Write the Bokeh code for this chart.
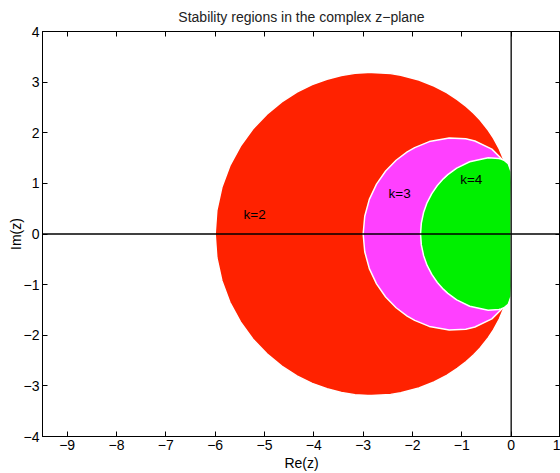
from bokeh.plotting import figure
from bokeh.models import Range1d, LinearAxis, FixedTicker, Span, Label
from bokeh.embed import file_html
from bokeh.resources import INLINE

# Stability region boundaries, upper half then lower half
K2_X = [0.0, -0.003, -0.047, -0.114, -0.156, -0.240, -0.359, -0.463, -0.632, -0.759, -0.911, -1.091,
        -1.306, -1.563, -1.870, -2.236, -2.443, -2.825, -2.908, -3.167, -3.442, -3.733, -4.034,
        -4.343, -4.650, -4.951, -5.234, -5.487, -5.702, -5.864, -5.966, -6.000,
        -5.966, -5.864, -5.702, -5.487, -5.234, -4.951, -4.650, -4.343, -4.034, -3.733, -3.442,
        -3.167, -2.908, -2.825, -2.443, -2.236, -1.870, -1.563, -1.306, -1.091, -0.911, -0.759,
        -0.632, -0.463, -0.359, -0.240, -0.156, -0.114, -0.047, -0.003]
K2_Y = [0.0, 0.524, 1.064, 1.356, 1.481, 1.680, 1.895, 2.050, 2.255, 2.385, 2.519, 2.656,
        2.792, 2.923, 3.042, 3.136, 3.168, 3.191, 3.191, 3.173, 3.130, 3.058, 2.950,
        2.803, 2.610, 2.368, 2.077, 1.735, 1.349, 0.923, 0.469, 0.0,
        -0.469, -0.923, -1.349, -1.735, -2.077, -2.368, -2.610, -2.803, -2.950, -3.058, -3.130,
        -3.173, -3.191, -3.191, -3.168, -3.136, -3.042, -2.923, -2.792, -2.656, -2.519, -2.385,
        -2.255, -2.050, -1.895, -1.680, -1.481, -1.356, -1.064, -0.524]

K3_X = [0.0, 0.000, -0.022, -0.073, -0.185, -0.392, -0.735, -0.920, -1.256, -1.659, -1.955, -2.107,
        -2.332, -2.544, -2.729, -2.875, -2.968, -3.000,
        -2.968, -2.875, -2.729, -2.544, -2.332, -2.107, -1.955, -1.659, -1.256, -0.920, -0.735,
        -0.392, -0.185, -0.073, -0.022, 0.000]
K3_Y = [0.0, 0.523, 1.026, 1.259, 1.477, 1.677, 1.838, 1.880, 1.896, 1.825, 1.707, 1.622,
        1.457, 1.244, 0.985, 0.683, 0.351, 0.0,
        -0.351, -0.683, -0.985, -1.244, -1.457, -1.622, -1.707, -1.825, -1.896, -1.880, -1.838,
        -1.677, -1.477, -1.259, -1.026, -0.523]

K4_X = [0.0, 0.000, 0.006, -0.003, -0.059, -0.134, -0.205, -0.247, -0.466, -0.840, -1.104, -1.284,
        -1.371, -1.497, -1.609, -1.704, -1.776, -1.821, -1.837,
        -1.821, -1.776, -1.704, -1.609, -1.497, -1.371, -1.284, -1.104, -0.840, -0.466, -0.247,
        -0.205, -0.134, -0.059, -0.003, 0.006, 0.000]
K4_Y = [0.0, 0.523, 1.026, 1.235, 1.388, 1.450, 1.480, 1.491, 1.506, 1.427, 1.300, 1.173,
        1.094, 0.958, 0.799, 0.620, 0.424, 0.215, 0.0,
        -0.215, -0.424, -0.620, -0.799, -0.958, -1.094, -1.173, -1.300, -1.427, -1.506, -1.491,
        -1.480, -1.450, -1.388, -1.235, -1.026, -0.523]

X_TICKS = [-9, -8, -7, -6, -5, -4, -3, -2, -1, 0, 1]
Y_TICKS = [-4, -3, -2, -1, 0, 1, 2, 3, 4]
REGION_LABELS = ["k=2", "k=3", "k=4"]

FONT = "Liberation Sans"


def lab(v):
    return ("\u2212" + str(-v)) if v < 0 else str(v)


p = figure(width=560, height=473, x_range=Range1d(-9.5, 1), y_range=Range1d(-4, 4),
           output_backend="svg", toolbar_location=None,
           title="Stability regions in the complex z\u2212plane",
           min_border_left=42, min_border_right=0, min_border_top=30, min_border_bottom=0)
p.title.align = "center"
p.title.text_font = FONT
p.title.text_font_size = "14px"
p.title.text_font_style = "normal"
p.title.text_color = "#222222"
p.title.standoff = 13
p.grid.visible = False
p.outline_line_color = "black"
p.background_fill_color = "white"
p.border_fill_color = "white"

p.patch(K2_X, K2_Y, fill_color="#ff2200", line_color="white", line_width=1.5)
p.patch(K3_X, K3_Y, fill_color="#ff40ff", line_color="white", line_width=1.5)
p.patch(K4_X, K4_Y, fill_color="#00f000", line_color="white", line_width=1.5)

p.add_layout(Span(location=0, dimension="width", line_color="black", line_width=1.3))
p.add_layout(Span(location=0, dimension="height", line_color="black", line_width=1.3))

for t, x, y in zip(REGION_LABELS, [-5.2, -2.26, -0.81], [0.38, 0.8, 1.08]):
    p.add_layout(Label(x=x, y=y, text=t, text_align="center", text_baseline="middle",
                       text_font=FONT, text_font_size="13.5px", text_color="black"))


def style(ax, ticks, show):
    ax.ticker = FixedTicker(ticks=ticks)
    ax.major_tick_in = 5
    ax.major_tick_out = 0
    ax.minor_tick_in = 0
    ax.minor_tick_out = 0
    ax.axis_line_color = "black"
    ax.major_tick_line_color = "black"
    ax.major_label_text_font = FONT
    ax.major_label_text_color = "black"
    ax.major_label_text_line_height = 1.0
    ax.axis_label_text_font = FONT
    ax.axis_label_text_font_style = "normal"
    ax.axis_label_text_font_size = "14px"
    ax.axis_label_text_color = "black"
    ax.axis_label_text_line_height = 1.0
    if show:
        ax.major_label_overrides = {v: lab(v) for v in ticks}
        ax.major_label_text_font_size = "14px"
        ax.major_label_standoff = 3
    else:
        ax.major_label_overrides = {v: "" for v in ticks}
        ax.major_label_text_font_size = "1px"
        ax.major_label_standoff = 0
        ax.axis_label_standoff = 0


style(p.xaxis[0], X_TICKS, True)
p.xaxis[0].axis_label = "Re(z)"
p.xaxis[0].axis_label_standoff = 2
style(p.yaxis[0], Y_TICKS, True)
p.yaxis[0].axis_label = "Im(z)"
p.yaxis[0].axis_label_standoff = -3

top = LinearAxis()
style(top, X_TICKS, False)
p.add_layout(top, "above")
right = LinearAxis()
style(right, Y_TICKS, False)
p.add_layout(right, "right")

open("out.html", "w").write(file_html(p, INLINE))
